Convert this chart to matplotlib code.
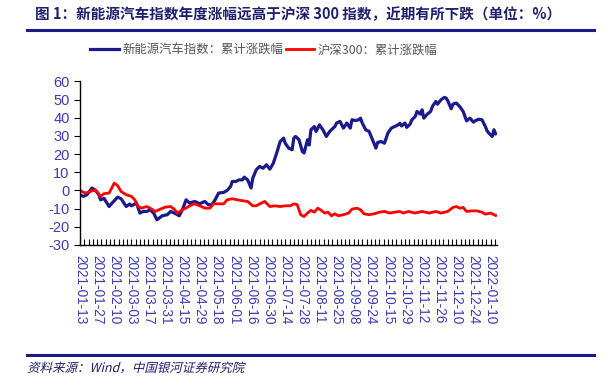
import matplotlib
matplotlib.use("Agg")
import matplotlib.pyplot as plt
from matplotlib.lines import Line2D
from matplotlib.patches import PathPatch
from matplotlib.textpath import TextPath
from matplotlib.font_manager import FontProperties
from matplotlib.transforms import Affine2D, IdentityTransform
from matplotlib.ticker import MultipleLocator

plt.rcParams['font.family'] = ['Noto Sans CJK SC', 'DejaVu Sans']
plt.rcParams['axes.unicode_minus'] = False

# 交易日序号 (从 2021-01-13 起) 及累计涨跌幅 (%)
nev_day = [0, 2, 4, 7, 9, 11, 12, 14, 17, 19, 22, 24, 27, 29, 30, 33, 35, 37, 39, 41,
           43, 45, 48, 51, 53, 56, 58, 60, 62, 64, 67, 70, 73, 75, 77, 79, 81, 84, 86, 88,
           89, 91, 93, 95, 96, 98, 100, 101, 103, 105, 107, 109, 111, 113, 115, 117, 119, 120, 122, 124,
           125, 126, 128, 130, 131, 133, 134, 135, 137, 138, 140, 142, 144, 146, 149, 150, 152, 154, 156, 158,
           159, 161, 163, 164, 165, 167, 169, 171, 173, 174, 176, 178, 180, 182, 184, 186, 187, 188, 190, 191,
           193, 194, 196, 197, 199, 200, 201, 203, 205, 206, 208, 209, 211, 213, 214, 215, 217, 218, 220, 222,
           224, 226, 228, 230, 231, 233, 235, 237, 238, 239, 241, 242, 243]
nev_val = [-2.4, -3.3, -2.4, 1.3, 0.0, -2.4, -5.2, -4.4, -8.9, -6.7, -3.7, -4.6, -8.9, -7.5, -8.5, -7.0, -12.5, -11.6, -11.6, -10.7,
           -12.5, -16.2, -14.0, -13.4, -11.6, -12.9, -14.0, -10.3, -5.2, -7.0, -6.1, -7.3, -6.1, -7.9, -7.9, -5.2, -1.5, -1.1, 0.0, 2.1,
           4.9, 4.9, 5.8, 5.8, 7.3, 5.8, 1.3, 6.7, 11.3, 13.2, 12.2, 14.1, 11.7, 15.0, 20.6, 26.9, 28.8, 25.9, 23.3, 22.4,
           28.8, 29.7, 28.0, 21.4, 20.6, 27.9, 25.0, 33.4, 35.2, 32.5, 36.1, 33.4, 29.7, 32.5, 35.2, 37.1, 38.0, 34.3, 37.1, 34.3,
           38.9, 38.5, 38.9, 39.8, 37.1, 33.4, 32.5, 27.9, 23.3, 26.4, 26.9, 26.0, 31.6, 34.3, 35.2, 36.1, 37.0, 35.5, 37.1, 34.7,
           36.5, 38.9, 40.7, 43.5, 42.0, 44.4, 39.8, 42.0, 43.5, 46.2, 49.0, 47.5, 49.9, 51.2, 50.9, 49.4, 45.0, 47.5, 48.1, 46.2,
           43.5, 38.3, 39.8, 37.6, 38.3, 39.2, 38.9, 35.2, 32.8, 31.6, 29.7, 33.4, 31.2]

hs_day = [0, 3, 6, 9, 12, 14, 17, 20, 22, 24, 27, 30, 32, 34, 36, 39, 41, 44, 47, 50,
          53, 55, 57, 60, 63, 64, 67, 70, 73, 76, 78, 81, 84, 86, 89, 92, 95, 98, 101, 103,
          106, 108, 111, 114, 117, 120, 123, 125, 127, 129, 131, 133, 135, 137, 139, 141, 143, 145, 147, 149,
          151, 154, 157, 159, 162, 164, 166, 169, 172, 175, 178, 181, 184, 187, 189, 192, 196, 200, 204, 208,
          211, 215, 218, 220, 222, 224, 226, 229, 232, 235, 237, 240, 243]
hs_val = [0.0, -1.5, -0.6, 0.3, -3.3, -1.8, -1.5, 4.0, 2.6, -0.6, -2.4, -3.3, -5.2, -8.9, -9.8, -8.9, -9.8, -11.6, -10.3, -9.2,
          -8.9, -10.3, -12.5, -10.7, -9.2, -8.5, -7.4, -8.5, -9.8, -9.8, -7.4, -7.4, -7.4, -5.2, -4.6, -5.2, -5.7, -6.1, -8.5, -8.5,
          -7.0, -6.1, -8.9, -8.5, -8.9, -8.5, -8.5, -7.4, -7.9, -13.4, -14.4, -12.5, -11.0, -12.0, -9.8, -11.0, -12.5, -12.0, -14.0, -12.9,
          -14.0, -13.4, -12.5, -10.3, -9.8, -10.7, -12.9, -13.4, -12.9, -12.0, -11.6, -12.5, -12.0, -11.6, -12.5, -11.6, -12.5, -11.6, -12.5, -11.6,
          -12.5, -11.6, -9.4, -8.9, -9.8, -9.4, -11.6, -11.3, -11.3, -12.0, -13.1, -12.5, -13.8]

tick_labels = ['2021-01-13', '2021-01-27', '2021-02-10', '2021-03-03', '2021-03-17', '2021-03-31',
               '2021-04-15', '2021-04-29', '2021-05-18', '2021-06-01', '2021-06-16', '2021-06-30',
               '2021-07-14', '2021-07-28', '2021-08-11', '2021-08-25', '2021-09-08', '2021-09-24',
               '2021-10-15', '2021-10-29', '2021-11-12', '2021-11-26', '2021-12-10', '2021-12-24',
               '2022-01-10']
tick_pos = [i * 10 for i in range(len(tick_labels))]

navy = '#1a1a8a'
label_blue = '#3c3cb4'

fig = plt.figure(figsize=(6.11, 3.79), dpi=100)
ax = fig.add_axes([0.131, 0.354, 0.683, 0.431])

ax.plot(nev_day, nev_val, color=navy, lw=2.3, label='新能源汽车指数：累计涨跌幅', solid_joinstyle='round')
ax.plot(hs_day, hs_val, color='#ff0000', lw=2.0, label='沪深300：累计涨跌幅', solid_joinstyle='round')

ax.set_xlim(0, 244)
ax.set_ylim(-30, 60)
ax.yaxis.set_major_locator(MultipleLocator(10))
ax.set_xticks(tick_pos)
ax.set_xticklabels(tick_labels, rotation=-90, fontfamily='Liberation Sans', fontsize=9.8, color=label_blue)
ax.xaxis.set_minor_locator(MultipleLocator(2.5))
ax.tick_params(axis='x', which='both', direction='in', length=4, width=0.8, pad=7)
ax.tick_params(axis='y', direction='out', length=4, width=0.8, labelsize=10.5, labelcolor=label_blue)
for lbl in ax.get_yticklabels():
    lbl.set_fontfamily('Liberation Sans')

for s in ['top', 'right']:
    ax.spines[s].set_visible(False)
for s in ['left', 'bottom']:
    ax.spines[s].set_linewidth(1.0)
    ax.spines[s].set_color('black')

leg = ax.legend(loc='center', bbox_to_anchor=(0.432, 0.868), bbox_transform=fig.transFigure,
                ncol=2, frameon=False, fontsize=8.9, handlelength=2.3, handletextpad=0.3,
                columnspacing=0.2)
for t in leg.get_texts():
    t.set_color('#555555')

# 标题与分隔线
fig.text(0.057, 0.962, '图 1：新能源汽车指数年度涨幅远高于沪深 300 指数，近期有所下跌（单位：%）',
         fontsize=10.5, fontweight='bold', color='#1f1f6e', va='center', ha='left')
fig.add_artist(Line2D([0.044, 0.972], [0.921, 0.921], color=navy, lw=2.2))
fig.add_artist(Line2D([0.044, 0.972], [0.063, 0.063], color=navy, lw=2.2))

# 资料来源（斜体效果）
src = TextPath((0, 0), '资料来源：Wind，中国银河证券研究院',
               size=12.5, prop=FontProperties(family='Noto Sans CJK SC'))
src_tf = Affine2D().skew_deg(14, 0).translate(27, 379 - 372) + IdentityTransform()
fig.add_artist(PathPatch(src, transform=src_tf, facecolor='#1f1f6e', edgecolor='none'))

fig.savefig('out.png', dpi=100)
